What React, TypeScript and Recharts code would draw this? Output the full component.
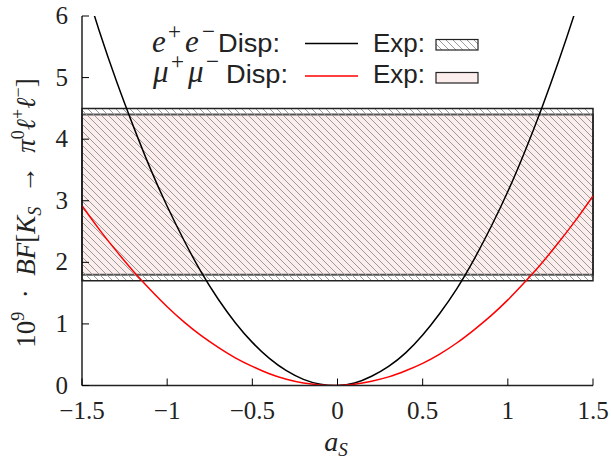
import { LineChart, Line, XAxis, YAxis, ReferenceArea } from "recharts";

// values
const aS = [
  -1.5, -1.4, -1.3, -1.2, -1.1, -1.0, -0.9, -0.8, -0.7, -0.6, -0.5, -0.4, -0.3,
  -0.2, -0.1, 0, 0.1, 0.2, 0.3, 0.4, 0.5, 0.6, 0.7, 0.8, 0.9, 1.0, 1.1, 1.2,
  1.3, 1.4, 1.5,
];
const eeDisp = [
  6.64, 5.77, 4.96, 4.22, 3.53, 2.91, 2.35, 1.84, 1.4, 1.02, 0.7, 0.44, 0.24,
  0.1, 0.02, 0.0, 0.04, 0.15, 0.31, 0.53, 0.82, 1.17, 1.57, 2.04, 2.57, 3.15,
  3.8, 4.51, 5.28, 6.11, 7.0,
];
const mumuDisp = [
  2.92, 2.54, 2.19, 1.86, 1.56, 1.28, 1.03, 0.81, 0.62, 0.45, 0.31, 0.19, 0.1,
  0.04, 0.01, 0.0, 0.02, 0.07, 0.14, 0.24, 0.36, 0.51, 0.69, 0.9, 1.13, 1.39,
  1.68, 1.99, 2.33, 2.69, 3.08,
];
const eeExp = [1.7, 4.5];
const mumuExp = [1.8, 4.4];
const xTicks = [-1.5, -1, -0.5, 0, 0.5, 1, 1.5];
const yTicks = [0, 1, 2, 3, 4, 5, 6];

const data = aS.map((a, i) => ({ a, ee: eeDisp[i], mumu: mumuDisp[i] }));

const SERIF = "Liberation Serif";
const SANS = "Liberation Sans";
const TICK = 7;

const fmt = (v: number) => (v < 0 ? "\u2212" + Math.abs(v) : String(v));

const BottomTick = (p: any) => (
  <g>
    <line x1={p.x} x2={p.x} y1={p.y} y2={p.y - TICK} stroke="#000" />
    <text x={p.x} y={p.y + 33} textAnchor="middle" fontFamily={SERIF} fontSize={25} fill="#222">
      {fmt(p.payload.value)}
    </text>
  </g>
);
const TopTick = (p: any) => (
  <line x1={p.x} x2={p.x} y1={p.y} y2={p.y + TICK} stroke="#000" />
);
const LeftTick = (p: any) => (
  <g>
    <line x1={p.x} x2={p.x + TICK} y1={p.y} y2={p.y} stroke="#000" />
    <text x={p.x - 14} y={p.y + 8} textAnchor="end" fontFamily={SERIF} fontSize={25} fill="#222">
      {p.payload.value}
    </text>
  </g>
);
const RightTick = (p: any) => (
  <line x1={p.x} x2={p.x - TICK} y1={p.y} y2={p.y} stroke="#000" />
);

// math-style key label: base, sup, base, sup at given x positions
function KeyMath({ y, base, xs }: { y: number; base: string; xs: number[] }) {
  return (
    <text fontFamily={SERIF} fontSize={31} fill="#222">
      <tspan x={xs[0]} y={y} fontStyle="italic">{base}</tspan>
      <tspan x={xs[1]} y={y - 13} fontSize={23}>+</tspan>
      <tspan x={xs[2]} y={y} fontStyle="italic">{base}</tspan>
      <tspan x={xs[3]} y={y - 13} fontSize={23}>{"\u2212"}</tspan>
    </text>
  );
}

function Overlay() {
  return (
    <svg
      width={611}
      height={462}
      style={{ position: "absolute", left: 0, top: 0, pointerEvents: "none" }}
    >
      {/* key */}
      <KeyMath y={52} base="e" xs={[152, 168, 185, 202]} />
      <text x={218} y={52} fontFamily={SANS} fontSize={25} fill="#222" textLength={62} lengthAdjust="spacingAndGlyphs">
        Disp:
      </text>
      <line x1={305} x2={358} y1={43.5} y2={43.5} stroke="#000" strokeWidth={1.5} />
      <text x={373} y={52} fontFamily={SANS} fontSize={25} fill="#222" textLength={52} lengthAdjust="spacingAndGlyphs">
        Exp:
      </text>
      <rect x={436} y={39.5} width={42} height={10.5} fill="url(#hatch)" stroke="#222" strokeWidth={1.2} />

      <KeyMath y={82} base={"\u03bc"} xs={[153, 171, 188, 206]} />
      <text x={226} y={83} fontFamily={SANS} fontSize={25} fill="#222" textLength={62} lengthAdjust="spacingAndGlyphs">
        Disp:
      </text>
      <line x1={305} x2={358} y1={76} y2={76} stroke="#ff0000" strokeWidth={1.5} />
      <text x={373} y={83} fontFamily={SANS} fontSize={25} fill="#222" textLength={52} lengthAdjust="spacingAndGlyphs">
        Exp:
      </text>
      <rect x={436} y={72.5} width={42} height={10.5} fill="#fdeeee" stroke="#222" strokeWidth={1.2} />

      {/* axis titles */}
      <text x={336} y={451} textAnchor="middle" fontFamily={SERIF} fontSize={28} fontStyle="italic" fill="#222">
        a<tspan dy={5} fontSize={19}>S</tspan>
      </text>
      <text
        transform="translate(35,213) rotate(-90)"
        textAnchor="middle"
        fontFamily={SERIF}
        fontSize={27}
        fill="#222"
      >
        10<tspan dy={-11} fontSize={18}>9</tspan>
        <tspan dy={11}>{"\u2002\u00b7\u2002"}</tspan>
        <tspan fontStyle="italic">BF</tspan>[<tspan fontStyle="italic">K</tspan>
        <tspan dy={6} fontSize={18} fontStyle="italic">S</tspan>
        <tspan dy={-6}>{"\u2002\u2192\u2002"}</tspan>
        <tspan fontStyle="italic">{"\u03c0"}</tspan>
        <tspan dy={-11} fontSize={18}>0</tspan>
        <tspan dy={11} fontStyle="italic">{"\u2113"}</tspan>
        <tspan dy={-11} fontSize={18}>+</tspan>
        <tspan dy={11} fontStyle="italic">{"\u2113"}</tspan>
        <tspan dy={-11} fontSize={18}>{"\u2212"}</tspan>
        <tspan dy={11}>]</tspan>
      </text>
    </svg>
  );
}

export default function App() {
  return (
    <div style={{ position: "absolute", left: 0, top: 0, width: 611, height: 462, background: "#fff" }}>
      <svg width={0} height={0} style={{ position: "absolute" }}>
        <defs>
          <pattern id="hatch" width={7} height={7} patternUnits="userSpaceOnUse">
            <path d="M0,0 L7,7 M-1,6 L1,8 M6,-1 L8,1" stroke="#9a9a9a" strokeWidth={1} />
          </pattern>
        </defs>
      </svg>
      <LineChart
        width={611}
        height={462}
        data={data}
        margin={{ top: 16, right: 18, bottom: 0, left: 0 }}
      >
        <XAxis
          dataKey="a"
          type="number"
          domain={[-1.5, 1.5]}
          ticks={xTicks}
          interval={0}
          allowDataOverflow
          height={76.5}
          tickSize={0}
          tickMargin={0}
          tick={BottomTick}
          axisLine={{ stroke: "#222", strokeWidth: 1.5 }}
        />
        <XAxis
          xAxisId="top"
          orientation="top"
          type="number"
          domain={[-1.5, 1.5]}
          ticks={xTicks}
          interval={0}
          allowDataOverflow
          height={0}
          tickSize={0}
          tickMargin={0}
          tick={TopTick}
          axisLine={{ stroke: "#222", strokeWidth: 1.5 }}
        />
        <YAxis
          type="number"
          domain={[0, 6]}
          ticks={yTicks}
          interval={0}
          allowDataOverflow
          width={82}
          tickSize={0}
          tickMargin={0}
          tick={LeftTick}
          axisLine={{ stroke: "#222", strokeWidth: 1.5 }}
        />
        <YAxis
          yAxisId="right"
          orientation="right"
          type="number"
          domain={[0, 6]}
          ticks={yTicks}
          interval={0}
          allowDataOverflow
          width={0}
          tickSize={0}
          tickMargin={0}
          tick={RightTick}
          axisLine={{ stroke: "#222", strokeWidth: 1.5 }}
        />
        <ReferenceArea
          y1={mumuExp[0]}
          y2={mumuExp[1]}
          fill="#fdeeee"
          fillOpacity={1}
          stroke="#555"
          strokeWidth={2}
        />
        <ReferenceArea
          y1={eeExp[0]}
          y2={eeExp[1]}
          fill="url(#hatch)"
          fillOpacity={1}
          stroke="#222"
          strokeWidth={1.5}
        />
        <Line
          dataKey="ee"
          type="natural"
          stroke="#000"
          strokeWidth={1.5}
          dot={false}
          isAnimationActive={false}
        />
        <Line
          dataKey="mumu"
          type="natural"
          stroke="#ff0000"
          strokeWidth={1.5}
          dot={false}
          isAnimationActive={false}
        />
      </LineChart>
      <Overlay />
    </div>
  );
}
